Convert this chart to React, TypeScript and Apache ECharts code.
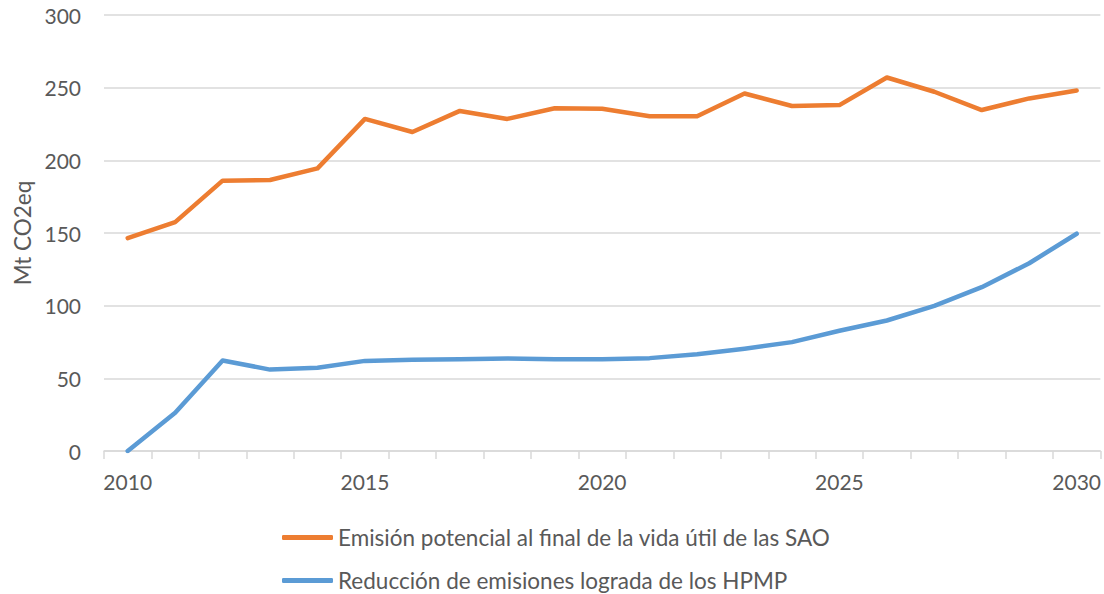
import React, { useEffect, useRef } from "react";
import * as echarts from "echarts";

const years = [
  "2010", "2011", "2012", "2013", "2014", "2015", "2016", "2017", "2018", "2019", "2020",
  "2021", "2022", "2023", "2024", "2025", "2026", "2027", "2028", "2029", "2030",
];

const emisionPotencial = [
  146.5, 157.5, 186, 186.5, 194.5, 228.5, 219.5, 234, 228.5, 235.8, 235.5,
  230.3, 230.3, 246, 237.4, 238, 257, 247.2, 234.6, 242.6, 248,
];

const reduccionHPMP = [
  0, 26.3, 62.3, 56, 57.3, 62, 62.8, 63.2, 63.6, 63.2, 63.2,
  63.9, 66.6, 70.4, 74.9, 82.7, 89.8, 99.9, 112.7, 129.2, 149.5,
];

const seriesNames = [
  "Emisión potencial al final de la vida útil de las SAO",
  "Reducción de emisiones lograda de los HPMP",
];

const yTicks = { min: 0, max: 300, interval: 50 };

const FONT = "Lato, 'Open Sans', sans-serif";
const TEXT = "#595959";
const GRID = "#D9D9D9";

const legendBase = {
  orient: "horizontal",
  left: 282,
  padding: 0,
  itemWidth: 51,
  itemHeight: 5,
  icon: "roundRect",
  textStyle: { fontFamily: FONT, fontSize: 22.5, color: TEXT },
};

export default function App() {
  const ref = useRef<HTMLDivElement>(null);

  useEffect(() => {
    document.body.style.margin = "0";
    if (!ref.current) return;
    const chart = echarts.init(ref.current, undefined, { renderer: "svg" });
    chart.setOption({
      animation: false,
      backgroundColor: "#ffffff",
      textStyle: { fontFamily: FONT },
      grid: { left: 104, right: 3, top: 15, bottom: 143, containLabel: false },
      legend: [
        { ...legendBase, top: 526, data: [seriesNames[0]] },
        { ...legendBase, top: 569, data: [seriesNames[1]] },
      ],
      xAxis: {
        type: "category",
        data: years,
        boundaryGap: true,
        axisLine: { lineStyle: { color: GRID, width: 1.5 } },
        axisTick: { show: true, interval: 0, length: 8, lineStyle: { color: GRID, width: 1.5 } },
        axisLabel: {
          interval: (i: number) => i % 5 === 0,
          color: TEXT,
          fontSize: 21,
          fontFamily: FONT,
          margin: 20,
        },
        splitLine: { show: false },
      },
      yAxis: {
        type: "value",
        min: yTicks.min,
        max: yTicks.max,
        interval: yTicks.interval,
        name: "Mt CO2eq",
        nameLocation: "middle",
        nameGap: 68,
        nameRotate: 90,
        nameTextStyle: { color: TEXT, fontSize: 22.5, fontFamily: FONT },
        axisLine: { show: false },
        axisTick: { show: false },
        axisLabel: { color: TEXT, fontSize: 21, fontFamily: FONT, margin: 23 },
        splitLine: { lineStyle: { color: GRID, width: 1.5 } },
      },
      series: [
        {
          name: seriesNames[0],
          type: "line",
          data: emisionPotencial,
          symbol: "none",
          color: "#ED7D31",
          lineStyle: { color: "#ED7D31", width: 4.5, cap: "round", join: "round" },
          itemStyle: { color: "#ED7D31" },
        },
        {
          name: seriesNames[1],
          type: "line",
          data: reduccionHPMP,
          symbol: "none",
          color: "#5B9BD5",
          lineStyle: { color: "#5B9BD5", width: 4.5, cap: "round", join: "round" },
          itemStyle: { color: "#5B9BD5" },
        },
      ],
    });
    return () => chart.dispose();
  }, []);

  return <div ref={ref} style={{ width: 1104, height: 594 }} />;
}
